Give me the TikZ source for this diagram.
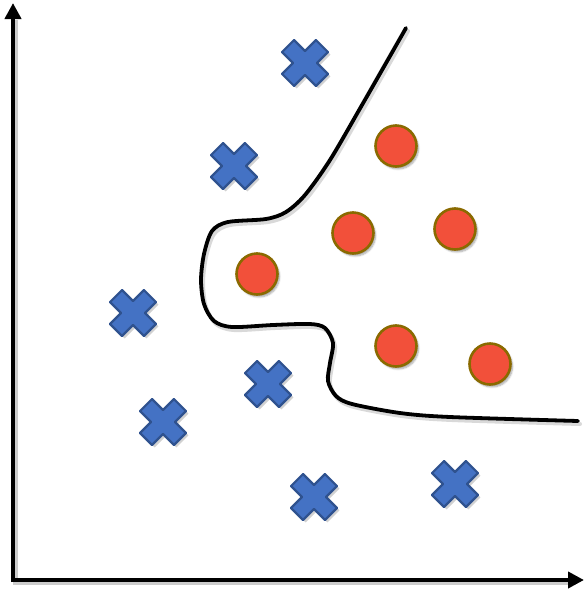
\documentclass[tikz,border=0pt]{standalone}
\usetikzlibrary{arrows.meta,shadows.blur}
\definecolor{dotfill}{HTML}{F2503A}
\definecolor{dotline}{HTML}{8A6A00}
\definecolor{xfill}{HTML}{4472C4}
\definecolor{xline}{HTML}{2F528F}
\tikzset{
  dot/.style={circle,minimum size=41pt,inner sep=0pt,fill=dotfill,draw=dotline,line width=2.6pt,
    blur shadow={shadow xshift=2pt,shadow yshift=-2.5pt,shadow blur steps=6,shadow opacity=35}},
  axis/.style={line width=4pt,-{Triangle[length=16pt,width=16pt]}},
  boundary/.style={line width=3.8pt,line cap=round,line join=round},
  bshadow/.style={line width=4pt,line cap=round,black,opacity=0.15},
  xmark/.pic={
    \fill[black,opacity=0.18,shift={(2.5,2.5)},rotate=45]
      (8.5,24)--(8.5,8.5)--(24,8.5)--(24,-8.5)--(8.5,-8.5)--(8.5,-24)--(-8.5,-24)--(-8.5,-8.5)--(-24,-8.5)--(-24,8.5)--(-8.5,8.5)--(-8.5,24)--cycle;
    \filldraw[fill=xfill,draw=xline,line width=2.2pt,line join=round,rotate=45]
      (8.5,24)--(8.5,8.5)--(24,8.5)--(24,-8.5)--(8.5,-8.5)--(8.5,-24)--(-8.5,-24)--(-8.5,-8.5)--(-24,-8.5)--(-24,8.5)--(-8.5,8.5)--(-8.5,24)--cycle;
  }
}
\begin{document}
\begin{tikzpicture}[x=1pt,y=-1pt]
\useasboundingbox (0,0) rectangle (584,590);
% axes
\coordinate (o) at (13,580);
\coordinate (ytop) at (13,3);
\coordinate (xend) at (584,580);
\coordinate (ybot) at (13,582);
\coordinate (xbeg) at (11,580);
\draw[line width=4pt,black!20] (15.5,582) -- (15.5,20);
\draw[line width=4pt,black!20] (13,582.5) -- (570,582.5);
\draw[axis] (ybot) -- (ytop);
\draw[axis] (xbeg) -- (xend);
% crosses
\pic at (305,63) {xmark};
\pic at (234,166) {xmark};
\pic at (133,313) {xmark};
\pic at (268,384) {xmark};
\pic at (163,422) {xmark};
\pic at (314,497) {xmark};
\pic at (455,484) {xmark};
% circles
\node[dot] (c1) at (396,146) {};
\node[dot] (c2) at (353,233) {};
\node[dot] (c3) at (455,229) {};
\node[dot] (c4) at (257,274) {};
\node[dot] (c5) at (396,346) {};
\node[dot] (c6) at (490,364) {};
% decision boundary
\def\bpts{(406,28) (362,105) (330,160) (305,195) (286,212) (266,219) (228,222) (212,231)
 (204,254) (201,280) (204,304) (214,321) (232,327) (273,325) (310,324) (325,328) (333,343)
 (330,363) (328,381) (336,396) (352,404) (400,413) (450,417) (578,421)}
\draw[bshadow,shift={(2,3)}] plot[smooth,tension=0.5] coordinates {(406,28) (362,105) (330,160) (305,195) (286,212) (266,219) (228,222) (212,231)
 (204,254) (201,280) (204,304) (214,321) (232,327) (273,325) (310,324) (325,328) (333,343)
 (330,363) (328,381) (336,396) (352,404) (400,413) (450,417) (578,421)};
\draw[boundary] plot[smooth,tension=0.5] coordinates {(406,28) (362,105) (330,160) (305,195) (286,212) (266,219) (228,222) (212,231)
 (204,254) (201,280) (204,304) (214,321) (232,327) (273,325) (310,324) (325,328) (333,343)
 (330,363) (328,381) (336,396) (352,404) (400,413) (450,417) (578,421)};
\end{tikzpicture}
\end{document}
